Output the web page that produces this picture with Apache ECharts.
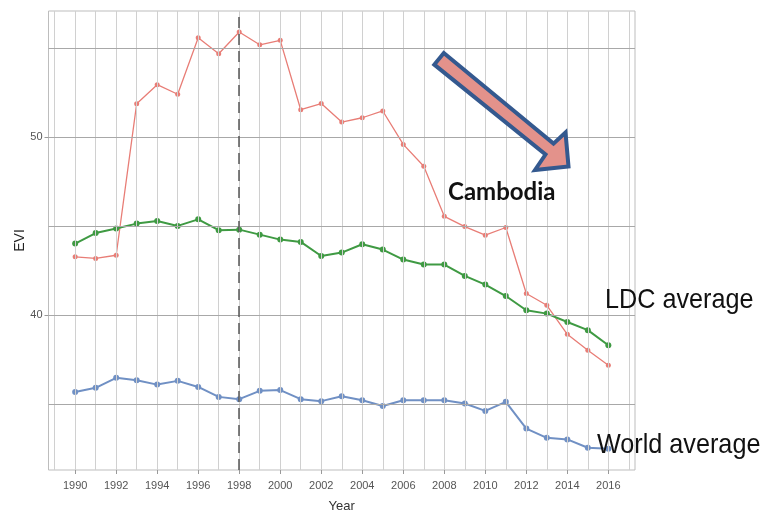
<!DOCTYPE html>
<html><head><meta charset="utf-8">
<script src="https://cdn.jsdelivr.net/npm/echarts@6/dist/echarts.min.js"></script>
<style>html,body{margin:0;padding:0;background:#fff}#c{width:767px;height:514px}</style>
</head><body><div id="c"></div>
<script>
var years = [1990,1991,1992,1993,1994,1995,1996,1997,1998,1999,2000,2001,2002,2003,2004,2005,2006,2007,2008,2009,2010,2011,2012,2013,2014,2015,2016];
var cambodia = [43.28,43.19,43.37,51.89,52.96,52.42,55.6,54.7,55.92,55.2,55.45,51.55,51.9,50.86,51.1,51.48,49.6,48.37,45.56,44.98,44.5,44.93,41.22,40.56,38.93,38.03,37.19];
var ldc = [44.03,44.62,44.87,45.15,45.3,45.02,45.39,44.78,44.81,44.53,44.25,44.12,43.33,43.52,43.99,43.69,43.13,42.85,42.85,42.21,41.72,41.08,40.28,40.09,39.62,39.16,38.31];
var world = [35.69,35.92,36.48,36.35,36.1,36.31,35.97,35.41,35.28,35.75,35.79,35.28,35.17,35.45,35.22,34.9,35.22,35.22,35.22,35.04,34.62,35.13,33.63,33.11,33.02,32.55,32.5];
var xTickLabels = [1990,1992,1994,1996,1998,2000,2002,2004,2006,2008,2010,2012,2014,2016];
var yTickLabels = [40,50];
var xGridValues = [1989,1990,1991,1992,1993,1994,1995,1996,1997,1998,1999,2000,2001,2002,2003,2004,2005,2006,2007,2008,2009,2010,2011,2012,2013,2014,2015,2016,2017];
var yGridValues = [35,40,45,50,55];
var dashedYear = 1998;

function pairs(vals){ return years.map(function(y,i){ return [y, vals[i]]; }); }

var chart = echarts.init(document.getElementById('c'));
var gridLines = xGridValues.map(function(v){ return {xAxis: v, lineStyle:{color:'#d0d0d0', width:1, type:'solid'}}; })
  .concat(yGridValues.map(function(v){ return {yAxis: v, lineStyle:{color:'#a8a8a8', width:1, type:'solid'}}; }));

chart.setOption({
  animation: false,
  grid: {left: 48.5, right: 132, top: 11, bottom: 44, show: true, borderColor: '#bdbdbd', borderWidth: 1, backgroundColor: '#fff',
         containLabel: false, outerBoundsMode: 'none'},
  xAxis: {
    type: 'value', min: 1988.7, max: 2017.3,
    name: 'Year', nameLocation: 'middle', nameGap: 30, nameMoveOverlap: false,
    nameTextStyle: {color: '#333', fontSize: 13, fontFamily: 'Liberation Sans'},
    axisLine: {show: false},
    splitLine: {show: false},
    axisTick: {show: true, customValues: xTickLabels, length: 4, lineStyle: {color: '#999'}},
    axisLabel: {customValues: xTickLabels, color: '#555', fontSize: 11, margin: 10, fontFamily: 'Liberation Sans',
      formatter: function(v){ return String(v); }}
  },
  yAxis: {
    type: 'value', min: 31.3, max: 57.1,
    name: 'EVI', nameLocation: 'middle', nameGap: 21, nameRotate: 90, nameMoveOverlap: false,
    nameTextStyle: {color: '#222', fontSize: 14, fontFamily: 'Liberation Sans'},
    axisLine: {show: false},
    splitLine: {show: false},
    axisTick: {show: true, customValues: yTickLabels, length: 4, lineStyle: {color: '#999'}},
    axisLabel: {customValues: yTickLabels, color: '#555', fontSize: 11, margin: 6, fontFamily: 'Liberation Sans'}
  },
  series: [
    {type: 'line', name: 'grid', data: [], z: 1, silent: true,
     markLine: {silent: true, symbol: 'none', label: {show: false}, animation: false, data: gridLines}},
    {type: 'line', name: 'marker', data: [], z: 2, silent: true,
     markLine: {silent: true, symbol: 'none', label: {show: false}, animation: false,
       data: [{xAxis: dashedYear, lineStyle: {color: '#555', width: 1.5, type: [11, 6]}}]}},
    {type: 'line', name: 'Cambodia', data: pairs(cambodia), z: 3, symbol: 'circle', symbolSize: 5,
     lineStyle: {color: '#e87d76', width: 1.3}, itemStyle: {color: '#e87d76', borderWidth: 0}},
    {type: 'line', name: 'LDC average', data: pairs(ldc), z: 3, symbol: 'circle', symbolSize: 6,
     lineStyle: {color: '#3f9a43', width: 2}, itemStyle: {color: '#3f9a43', borderWidth: 0}},
    {type: 'line', name: 'World average', data: pairs(world), z: 3, symbol: 'circle', symbolSize: 6,
     lineStyle: {color: '#7090c4', width: 2}, itemStyle: {color: '#7090c4', borderWidth: 0}}
  ],
  graphic: [
    {type: 'polygon', z: 50, shape: {points: [[443.8,53.0],[553.5,143.6],[565.5,132.5],[568.5,166.5],[535.0,170.0],[545.5,154.5],[434.3,64.6]]},
     style: {fill: '#e3928b', stroke: '#34598f', lineWidth: 4, lineJoin: 'miter'}},
    {type: 'text', z: 50, x: 448, y: 192, style: {text: 'Cambodia', font: 'bold 24px Lato', fill: '#111', verticalAlign: 'middle', align: 'left'}},
    {type: 'text', z: 50, x: 605, y: 300, scaleX: 0.9, style: {text: 'LDC average', font: '28px "Liberation Sans"', fill: '#111', verticalAlign: 'middle', align: 'left'}},
    {type: 'text', z: 50, x: 597, y: 445, scaleX: 0.9, style: {text: 'World average', font: '28px "Liberation Sans"', fill: '#111', verticalAlign: 'middle', align: 'left'}}
  ]
});
</script></body></html>
